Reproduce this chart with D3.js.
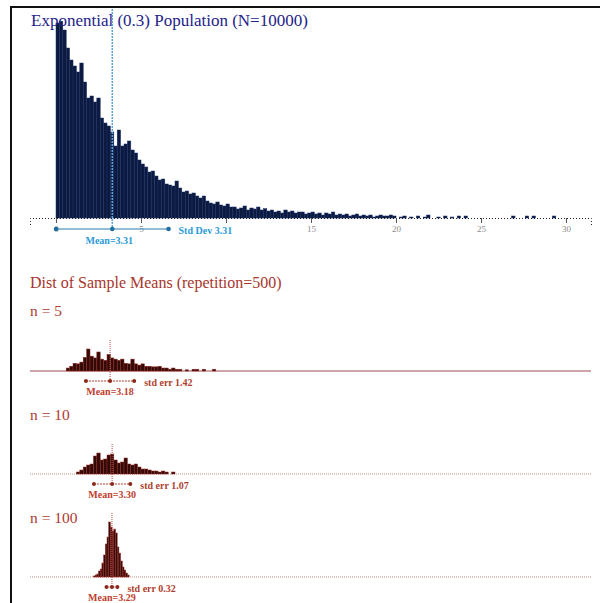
<!DOCTYPE html>
<html>
<head>
<meta charset="utf-8">
<script src="https://cdn.jsdelivr.net/npm/d3@7"></script>
<style>
  body { margin: 0; background: #fff; }
  svg { display: block; }
  text { font-family: "Liberation Serif", "DejaVu Serif", serif; }
</style>
</head>
<body>
<svg id="chart" width="600" height="603"></svg>
<script>
// ---- Population: Exponential(0.3), N = 10000, counts per 0.2-wide bin from 0 ----
const popBinWidth = 0.2;
const popCounts = [
  585, 590, 564, 510, 474, 456, 438, 465, 408, 360,
  366, 348, 360, 300, 285, 276, 258, 216, 264, 216,
  222, 231, 204, 195, 174, 162, 153, 138, 141, 126,
  114, 117, 102, 99, 96, 111, 90, 78, 81, 72,
  75, 66, 60, 66, 51, 45, 42, 48, 39, 36,
  42, 33, 33, 27, 30, 36, 24, 30, 27, 33,
  24, 28, 21, 24, 18, 21, 15, 24, 18, 21,
  15, 18, 18, 12, 15, 18, 12, 15, 9, 15,
  12, 18, 9, 12, 9, 12, 6, 9, 12, 6,
  9, 6, 9, 3, 6, 9, 6, 6, 9, 6,
  0, 3, 6, 0, 3, 0, 6, 0, 3, 9,
  0, 0, 3, 0, 6, 0, 3, 0, 6, 0,
  6, 0, 0, 0, 0, 0, 0, 0, 0, 0,
  0, 0, 0, 0, 6, 0, 0, 0, 6, 0,
  6, 0, 0, 0, 0, 0, 6, 0, 0, 0
];
const popMean = 3.31;
const popSd = 3.31;
const axisTicks = [0, 5, 10, 15, 20, 25, 30];

// ---- Sampling distributions of the mean (500 repetitions) ----
const sampleSizes = [5, 10, 100];
const sampleMeans = [3.18, 3.30, 3.29];
const sampleStdErrs = [1.42, 1.07, 0.32];
const sampleBinStarts = [0.6, 1.2, 2.2];
const sampleBinWidths = [0.2, 0.2, 0.1];
const countsN5 = [
  5, 8, 13, 12, 15, 23, 37, 25, 22, 32,
  20, 18, 28, 22, 20, 18, 20, 13, 12, 20,
  12, 10, 12, 8, 8, 7, 7, 8, 5, 5,
  3, 5, 3, 3, 0, 2, 0, 3, 3, 0,
  3, 0, 0, 3
];
const countsN10 = [
  4, 8, 14, 18, 20, 36, 42, 28, 30, 38,
  40, 28, 22, 24, 32, 20, 18, 20, 14, 10,
  10, 8, 6, 6, 4, 6, 4, 0, 4
];
const countsN100 = [
  1, 2, 3, 6, 8, 14, 22, 33, 40, 55,
  50, 46, 48, 44, 30, 24, 16, 10, 7, 4, 2
];
const sampleCounts = [countsN5, countsN10, countsN100];

// ---- layout ----
const svg = d3.select("#chart");
const popBase = 218;
const panelBase = [371, 474, 577];
const panelLabelY = [316, 420, 523];
const panelBarHeight = [22, 21, 55];

const x = d3.scaleLinear().domain([-1.53, 31.47]).range([30, 591]);

// frame
svg.append("rect")
  .attr("x", 11).attr("y", 7).attr("width", 620).attr("height", 620)
  .attr("fill", "none").attr("stroke", "#111").attr("stroke-width", 2);

// ---------- population histogram ----------
const yPop = d3.scaleLinear().domain([0, 600]).range([popBase, popBase - 200]);
const popBins = popCounts.map((c, i) => ({ x0: i * popBinWidth, x1: (i + 1) * popBinWidth, c }))
  .filter(d => d.c > 0);

svg.append("g").selectAll("rect")
  .data(popBins).join("rect")
  .attr("x", d => x(d.x0))
  .attr("width", d => x(d.x1) - x(d.x0))
  .attr("y", d => yPop(d.c))
  .attr("height", d => popBase - yPop(d.c))
  .attr("fill", "#0d1a40")
  .attr("stroke", "#1b3068")
  .attr("stroke-width", 0.5);

// axis
const axis = svg.append("g")
  .attr("transform", `translate(0,${popBase})`)
  .call(d3.axisBottom(x).tickValues(axisTicks).tickSize(5).tickSizeOuter(7).tickPadding(3));
axis.select(".domain").attr("stroke", "#222").attr("stroke-dasharray", "1,2");
axis.selectAll(".tick line").attr("stroke", "#555");
axis.selectAll(".tick text")
  .attr("fill", "#8a8a8a").attr("font-size", 9)
  .attr("font-family", "'Liberation Serif', serif");

// title
svg.append("text")
  .attr("x", 31).attr("y", 26)
  .attr("font-size", 17).attr("fill", "#23238a")
  .text("Exponential (0.3) Population (N=10000)");

// mean line
svg.append("line")
  .attr("x1", x(popMean)).attr("x2", x(popMean))
  .attr("y1", 9).attr("y2", 229)
  .attr("stroke", "#5aa4dc").attr("stroke-width", 1.5)
  .attr("stroke-dasharray", "2,1");

// mean ± sd bar
const popBarY = 229;
svg.append("line")
  .attr("x1", x(popMean - popSd)).attr("x2", x(popMean + popSd))
  .attr("y1", popBarY).attr("y2", popBarY)
  .attr("stroke", "#2a7fae").attr("stroke-width", 1.2);
svg.append("g").selectAll("circle")
  .data([popMean - popSd, popMean, popMean + popSd]).join("circle")
  .attr("cx", d => x(d)).attr("cy", popBarY).attr("r", 2.3)
  .attr("fill", "#1f6fa0");
svg.append("text")
  .attr("x", x(popMean) - 3).attr("y", 244)
  .attr("text-anchor", "middle").attr("font-size", 10).attr("font-weight", "bold")
  .attr("fill", "#2a9ad8")
  .text(`Mean=${popMean.toFixed(2)}`);
svg.append("text")
  .attr("x", x(popMean + popSd) + 10).attr("y", 234)
  .attr("font-size", 10).attr("font-weight", "bold")
  .attr("fill", "#2a9ad8")
  .attr("stroke", "#fff").attr("stroke-width", 3).attr("paint-order", "stroke")
  .text(`Std Dev ${popSd.toFixed(2)}`);

// ---------- sampling distributions ----------
svg.append("text")
  .attr("x", 30).attr("y", 288)
  .attr("font-size", 16).attr("fill", "#a8352c")
  .text("Dist of Sample Means (repetition=500)");

sampleSizes.forEach((n, k) => {
  const base = panelBase[k];
  const counts = sampleCounts[k];
  const bw = sampleBinWidths[k];
  const start = sampleBinStarts[k];
  const mean = sampleMeans[k];
  const se = sampleStdErrs[k];
  const g = svg.append("g");

  g.append("text")
    .attr("x", 30).attr("y", panelLabelY[k])
    .attr("font-size", 15.5).attr("fill", "#b03a2e")
    .text(`n = ${n}`);

  const y = d3.scaleLinear().domain([0, d3.max(counts)]).range([base, base - panelBarHeight[k]]);
  const bins = counts.map((c, i) => ({ x0: start + i * bw, x1: start + (i + 1) * bw, c }))
    .filter(d => d.c > 0);

  // baseline
  g.append("line")
    .attr("x1", 30).attr("x2", 591).attr("y1", base).attr("y2", base)
    .attr("stroke", k === 0 ? "#9c4a52" : "#c08a8a")
    .attr("stroke-width", 1)
    .attr("stroke-dasharray", k === 0 ? null : "1,1");

  g.append("g").selectAll("rect")
    .data(bins).join("rect")
    .attr("x", d => x(d.x0))
    .attr("width", d => x(d.x1) - x(d.x0))
    .attr("y", d => y(d.c))
    .attr("height", d => base - y(d.c))
    .attr("fill", "#320b09")
    .attr("stroke", "#962a22")
    .attr("stroke-width", 0.5);

  // mean line
  g.append("line")
    .attr("x1", x(mean)).attr("x2", x(mean))
    .attr("y1", base - panelBarHeight[k] - 9).attr("y2", base + 12)
    .attr("stroke", "#c0504a").attr("stroke-width", 1)
    .attr("stroke-dasharray", "1,1");

  // mean ± std err
  const barY = base + 10;
  g.append("line")
    .attr("x1", x(mean - se)).attr("x2", x(mean + se))
    .attr("y1", barY).attr("y2", barY)
    .attr("stroke", "#a8402e").attr("stroke-width", 1)
    .attr("stroke-dasharray", "2,1");
  g.append("g").selectAll("circle")
    .data([mean - se, mean, mean + se]).join("circle")
    .attr("cx", d => x(d)).attr("cy", barY).attr("r", 2)
    .attr("fill", "#8a2a1a");
  g.append("text")
    .attr("x", x(mean + se) + 10).attr("y", base + 15)
    .attr("font-size", 10).attr("font-weight", "bold").attr("fill", "#b0402e")
    .text(`std err ${se.toFixed(2)}`);
  g.append("text")
    .attr("x", x(mean)).attr("y", base + 24)
    .attr("text-anchor", "middle").attr("font-size", 10).attr("font-weight", "bold")
    .attr("fill", "#c0402e")
    .text(`Mean=${mean.toFixed(2)}`);
});
</script>
</body>
</html>
